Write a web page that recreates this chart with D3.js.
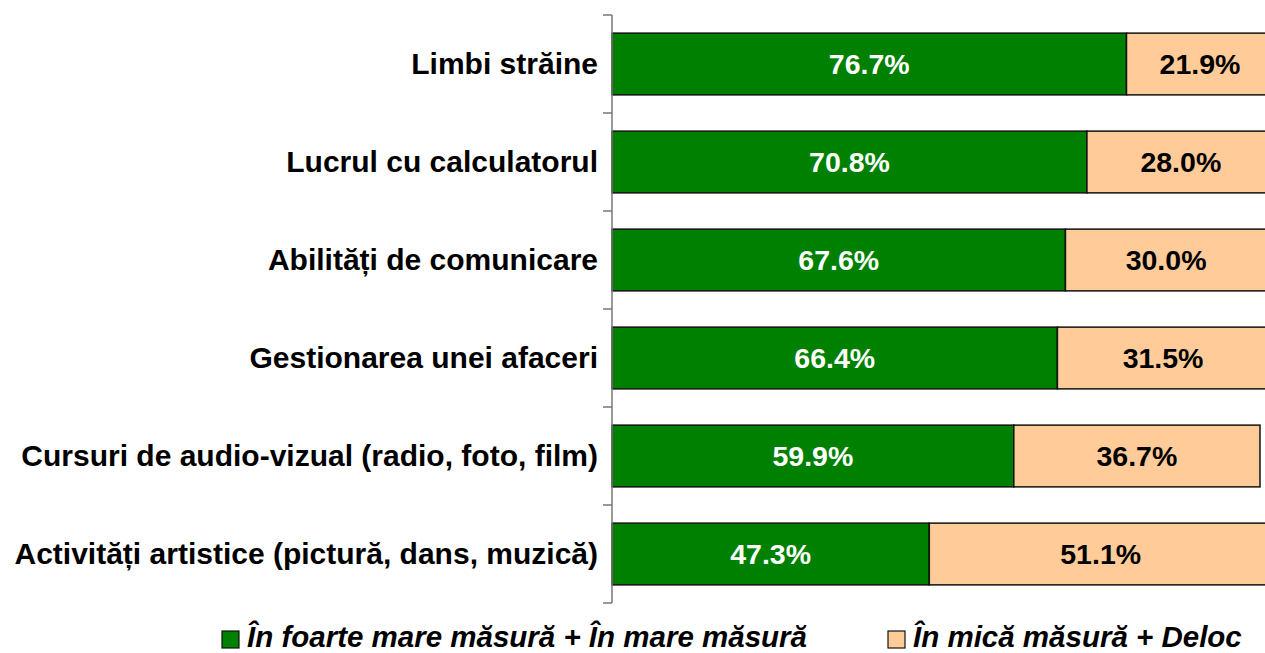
<!DOCTYPE html>
<html>
<head>
<meta charset="utf-8">
<script src="https://d3js.org/d3.v7.min.js"></script>
<style>
  body { margin: 0; background: #fff; }
  text { font-family: "Liberation Sans", Arial, sans-serif; font-weight: bold; }
</style>
</head>
<body>
<script>
var categories = [
  "Limbi străine",
  "Lucrul cu calculatorul",
  "Abilități de comunicare",
  "Gestionarea unei afaceri",
  "Cursuri de audio-vizual (radio, foto, film)",
  "Activități artistice (pictură, dans, muzică)"
];
var mare = [76.7, 70.8, 67.6, 66.4, 59.9, 47.3];
var mica = [21.9, 28.0, 30.0, 31.5, 36.7, 51.1];
var seriesNames = ["În foarte mare măsură + În mare măsură", "În mică măsură + Deloc"];
var colors = ["#008000", "#FFCC99"];

var width = 1265, height = 653;
var x0 = 612, yTop = 15, yBottom = 603;

var svg = d3.select("body").append("svg")
    .attr("width", width)
    .attr("height", height);

var x = d3.scaleLinear().domain([0, 100]).range([x0, x0 + 670.8]);
var y = d3.scaleBand().domain(categories).range([yTop, yBottom]).paddingInner(0.37).paddingOuter(0.185);

var rows = categories.map(function(c, i) {
  return [
    { cat: c, start: 0, v: mare[i], s: 0 },
    { cat: c, start: mare[i], v: mica[i], s: 1 }
  ];
});

var g = svg.selectAll(".row").data(rows).enter().append("g");

g.selectAll("rect").data(function(d) { return d; }).enter().append("rect")
    .attr("x", function(d) { return x(d.start); })
    .attr("y", function(d) { return y(d.cat); })
    .attr("width", function(d) { return x(d.start + d.v) - x(d.start); })
    .attr("height", y.bandwidth())
    .attr("fill", function(d) { return colors[d.s]; })
    .attr("stroke", "#111")
    .attr("stroke-width", 1.5);

g.selectAll("text").data(function(d) { return d; }).enter().append("text")
    .attr("x", function(d) { return x(d.start + d.v / 2); })
    .attr("y", function(d) { return y(d.cat) + y.bandwidth() / 2; })
    .attr("dy", "0.36em")
    .attr("text-anchor", "middle")
    .attr("font-size", 28.5)
    .attr("fill", function(d) { return d.s === 0 ? "#fff" : "#000"; })
    .text(function(d) { return d.v.toFixed(1) + "%"; });

// category axis
var axis = d3.axisLeft(y).tickSize(0).tickPadding(14);
var ax = svg.append("g").attr("transform", "translate(" + x0 + ",0)").call(axis);
ax.select(".domain").attr("stroke", "#777").attr("stroke-width", 1.5)
    .attr("d", "M0," + yTop + "V" + yBottom);
ax.selectAll(".tick text").attr("font-size", 30).attr("fill", "#000")
    .style("font-family", "'Liberation Sans', Arial, sans-serif").style("font-weight", "bold");

// tick marks between categories
var bounds = d3.range(categories.length + 1).map(function(i) { return yTop + i * y.step(); });
svg.append("g").selectAll("line").data(bounds).enter().append("line")
    .attr("x1", x0 - 9).attr("x2", x0)
    .attr("y1", function(d) { return d; }).attr("y2", function(d) { return d; })
    .attr("stroke", "#777").attr("stroke-width", 1.5);

// legend
var legend = svg.append("g");
var lx = [222, 888];
seriesNames.forEach(function(n, i) {
  legend.append("rect").attr("x", lx[i]).attr("y", 631).attr("width", 17).attr("height", 17)
      .attr("fill", colors[i]).attr("stroke", "#111").attr("stroke-width", 1.2);
  legend.append("text").attr("x", lx[i] + 25).attr("y", 647)
      .attr("font-size", 29.5).attr("font-style", "italic").text(n);
});
</script>
</body>
</html>
